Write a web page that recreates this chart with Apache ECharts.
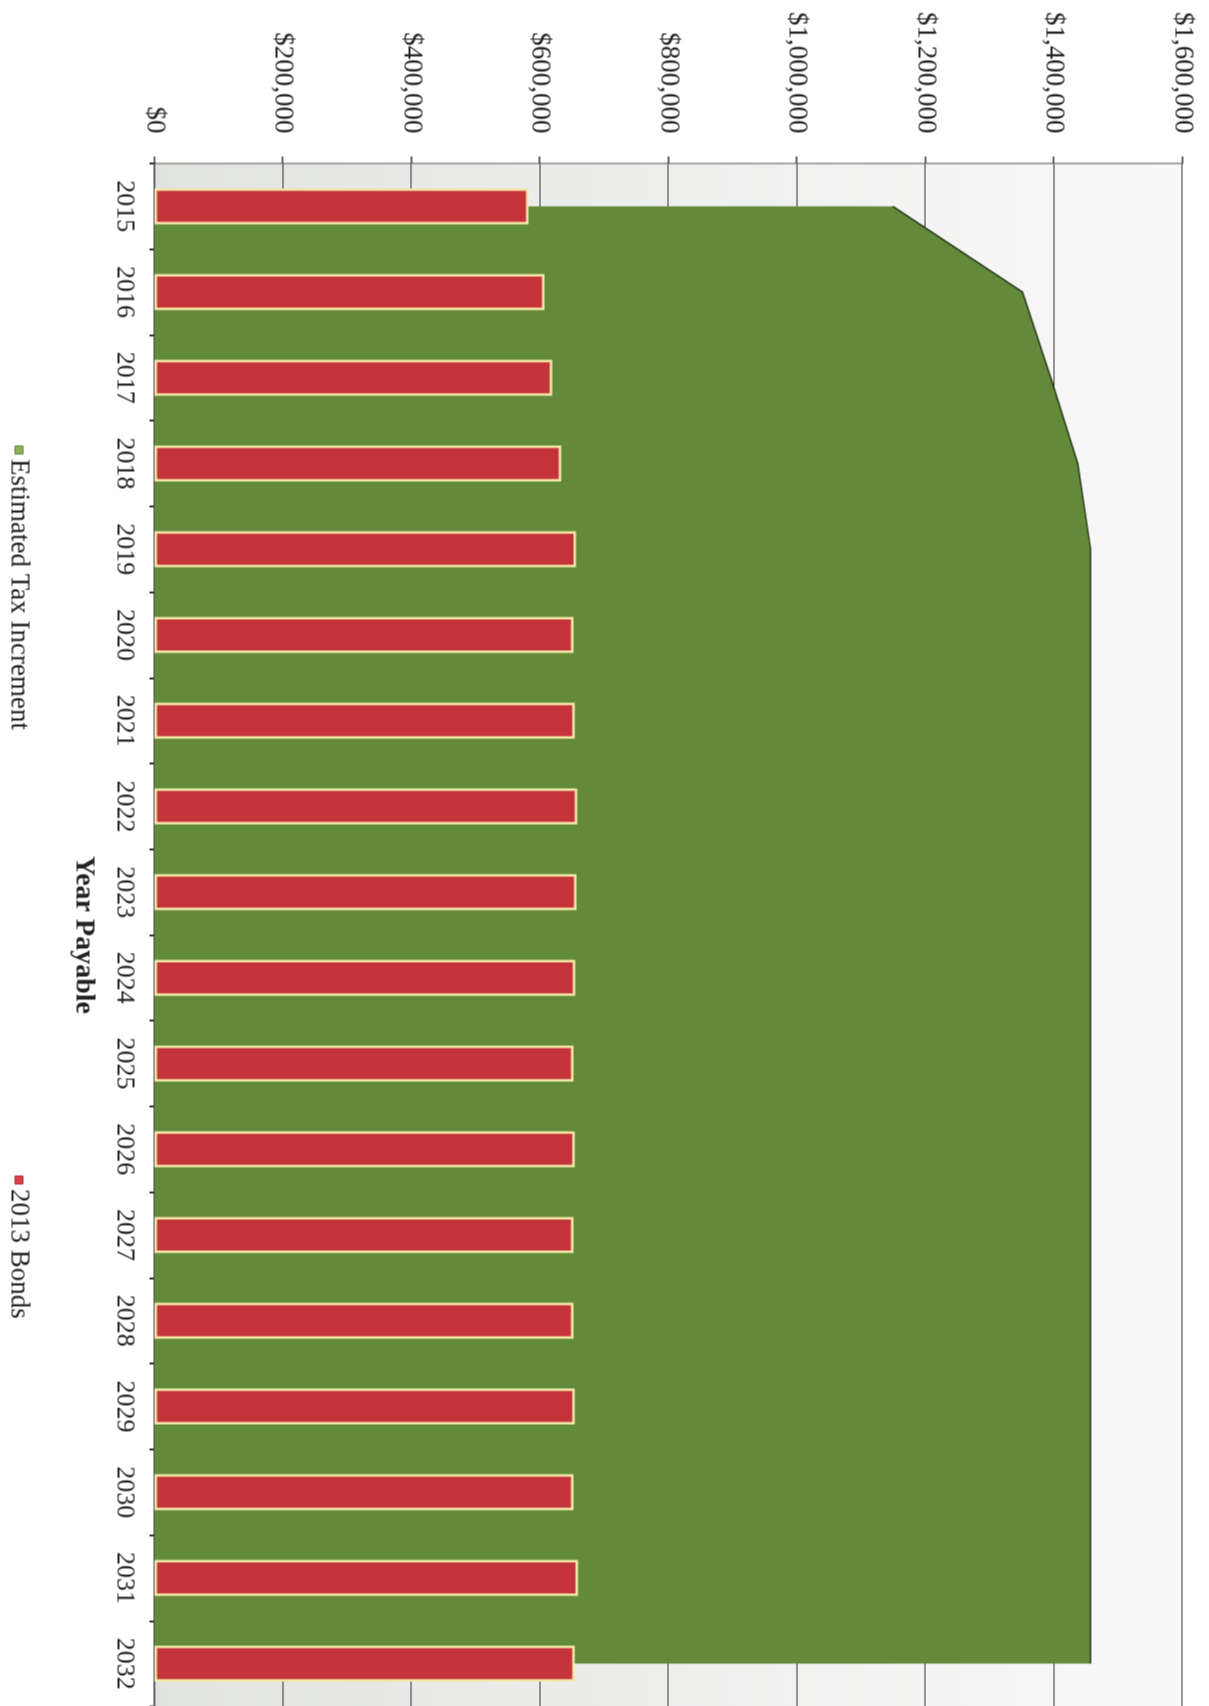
<!DOCTYPE html>
<html>
<head>
<meta charset="utf-8">
<script src="https://cdn.jsdelivr.net/npm/echarts@6/dist/echarts.min.js"></script>
<style>
  html, body { margin: 0; padding: 0; width: 1209px; height: 1706px; overflow: hidden; background: #ffffff; }
  #chart { position: absolute; width: 1706px; height: 1209px; left: -248.5px; top: 248.5px; transform: rotate(90deg); }
</style>
</head>
<body>
<div id="chart"></div>
<script>
// ---- data ----
const years = ['2015','2016','2017','2018','2019','2020','2021','2022','2023','2024','2025','2026','2027','2028','2029','2030','2031','2032'];
const estimatedTaxIncrement = [1149000, 1351000, 1395000, 1437000, 1457000, 1457000, 1457000, 1457000, 1457000, 1457000, 1457000, 1457000, 1457000, 1457000, 1457000, 1457000, 1457000, 1457000];
const bonds2013 = [582000, 607000, 619000, 633000, 656000, 652000, 654000, 658000, 657000, 655000, 652000, 654000, 652000, 652000, 654000, 652000, 659000, 654000];
const valueTicks = { min: 0, max: 1600000, interval: 200000 };
const seriesNames = ['Estimated Tax Increment', '2013 Bonds'];
const axisTitle = 'Year Payable';

const FONT = 'Liberation Serif';
const chart = echarts.init(document.getElementById('chart'), null, { renderer: 'canvas' });

chart.setOption({
  animation: false,
  backgroundColor: '#ffffff',
  grid: {
    left: 163, right: -7, top: 27, bottom: 154,
    show: true,
    borderWidth: 0,
    backgroundColor: new echarts.graphic.LinearGradient(0, 0, 0, 1, [
      { offset: 0, color: '#f8f9f8' },
      { offset: 0.5, color: '#eeefed' },
      { offset: 1, color: '#e1e3df' }
    ])
  },
  legend: [
    {
      data: [{ name: seriesNames[0], itemStyle: { color: '#8db25a', borderColor: '#5f7f3a', borderWidth: 1 } }],
      left: 440, bottom: 0,
      icon: 'rect', itemWidth: 8, itemHeight: 8, itemGap: 6,
      textStyle: { fontFamily: FONT, fontSize: 27, color: '#222' }
    },
    {
      data: [{ name: seriesNames[1], itemStyle: { color: '#d9424a', borderColor: '#b02a30', borderWidth: 1 } }],
      left: 1170, bottom: 0,
      icon: 'rect', itemWidth: 8, itemHeight: 8, itemGap: 6,
      textStyle: { fontFamily: FONT, fontSize: 27, color: '#222' }
    }
  ],
  xAxis: {
    type: 'category',
    data: years,
    boundaryGap: true,
    position: 'bottom',
    name: axisTitle,
    nameLocation: 'middle',
    nameGap: 57,
    nameTextStyle: { fontFamily: FONT, fontSize: 28, fontWeight: 'bold', color: '#222' },
    axisLine: { show: true, lineStyle: { color: '#555', width: 1.5 } },
    axisTick: { show: true, length: 5, lineStyle: { color: '#333', width: 2 } },
    axisLabel: { fontFamily: FONT, fontSize: 26, color: '#222', margin: 17, interval: 0 },
    splitLine: { show: false }
  },
  yAxis: {
    type: 'value',
    min: valueTicks.min, max: valueTicks.max, interval: valueTicks.interval,
    position: 'left',
    axisLine: { show: true, lineStyle: { color: '#888', width: 1.5 } },
    axisTick: { show: true, length: 7, lineStyle: { color: '#333', width: 1.5 } },
    axisLabel: {
      fontFamily: FONT, fontSize: 27, color: '#222', margin: 30,
      formatter: v => '$' + v.toLocaleString('en-US')
    },
    splitLine: { show: true, lineStyle: { color: '#333', width: 1.2 } }
  },
  series: [
    {
      name: seriesNames[0],
      type: 'line',
      data: estimatedTaxIncrement,
      showSymbol: false,
      symbol: 'none',
      itemStyle: { color: '#8db25a' },
      lineStyle: { color: '#2c3a1c', width: 1.5 },
      areaStyle: { color: '#628a3a', opacity: 1 },
      z: 2
    },
    {
      name: seriesNames[1],
      type: 'bar',
      data: bonds2013,
      barWidth: 36,
      itemStyle: { color: '#c4323a', borderColor: '#f4e8a8', borderWidth: 2.5 },
      z: 3
    }
  ]
});
</script>
</body>
</html>
